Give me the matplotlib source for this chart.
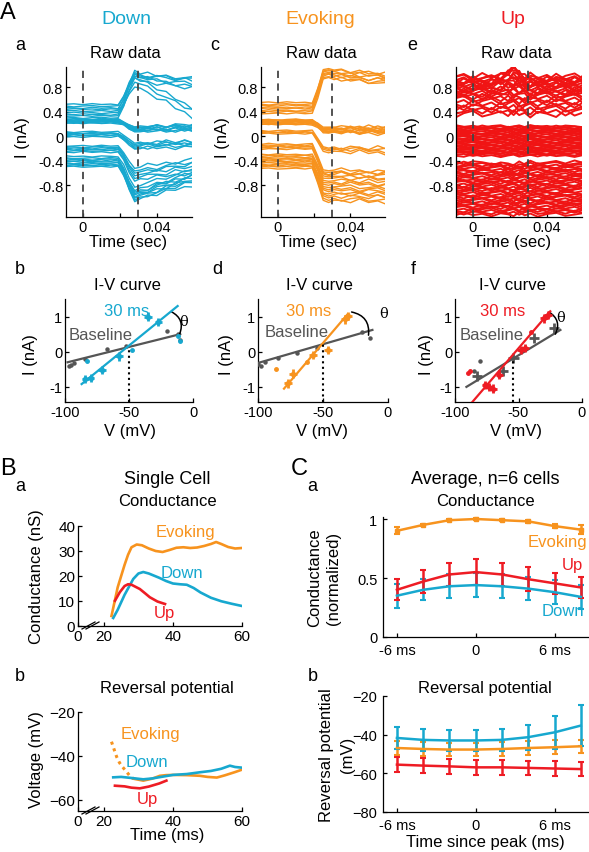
import numpy as np
import matplotlib
matplotlib.use('Agg')
import matplotlib.pyplot as plt
from matplotlib.lines import Line2D

plt.rcParams['font.family'] = ['Liberation Sans', 'DejaVu Sans']

W, H = 589, 853
CYAN = '#17a8cf'
ORANGE = '#f7931e'
RED = '#ee1c24'
UPRED = '#f01414'
GRAY = '#555555'

# ---------------- raw data (A a, c, e) ----------------
raw_t = [-0.010, -0.005, 0.000, 0.005, 0.010, 0.015, 0.019, 0.022, 0.025, 0.028,
         0.031, 0.035, 0.040, 0.045, 0.050, 0.055, 0.060]
wiggle = [0.0, 0.6, -0.4, 0.8, -0.2, 0.3, -0.7, 0.5, 0.1, -0.6, 0.9, -0.3, 0.4, -0.8, 0.2, 0.7, -0.5]

down_frac = [0, 0, 0, 0, 0, 0, 0, 0.3, 0.75, 1.08, 1.0, 1, 1, 1, 1, 1, 1]
down_decay = [0, 0, 0, 0, 0, 0, 0, 0, 0, 0, 0, 0.14, 0.31, 0.48, 0.66, 0.83, 1.0]
down_amp = [0.015] * 7 + [0.01] * 4 + [0.045] * 6
down_pre = [0.52, 0.49, 0.46, 0.44, 0.41, 0.38, 0.35, 0.33, 0.30,
            0.28, 0.27, 0.26, 0.25, 0.25, 0.24, 0.23, 0.22, 0.21,
            0.07, 0.05, 0.04, 0.02, 0.01, -0.01,
            -0.16, -0.18, -0.20, -0.22, -0.24, -0.26,
            -0.33, -0.36, -0.38, -0.40, -0.42, -0.44, -0.46, -0.48, -0.50]
down_post = [0.95, 1.0, 0.92, 0.98, 0.78, 0.96, 0.85, 1.02, 0.9,
             0.15, 0.12, 0.1, 0.14, 0.08, 0.11, 0.16, 0.09, 0.13,
             -0.1, -0.14, -0.18, -0.12, -0.2, -0.16,
             -0.5, -0.58, -0.62, -0.55, -0.66, -0.7,
             -0.8, -0.9, -0.95, -1.0, -0.85, -0.92, -1.02, -0.88, -0.97]
down_end = [0.85, 0.9, 0.45, 0.95, 0.3, 0.8, 0.4, 0.92, 0.78,
            0.16, 0.15, 0.12, 0.18, 0.1, 0.12, 0.19, 0.08, 0.14,
            -0.1, -0.12, -0.15, -0.08, -0.18, -0.13,
            -0.38, -0.45, -0.5, -0.42, -0.55, -0.6,
            -0.55, -0.62, -0.7, -0.75, -0.6, -0.68, -0.8, -0.65, -0.72]

evok_frac = [0, 0, 0, 0, 0, 0, 0, 0.45, 1.0, 1.05, 1.0, 1, 1, 1, 1, 1, 1]
evok_decay = down_decay
evok_amp = [0.015] * 7 + [0.01] * 4 + [0.045] * 6
evok_pre = [0.55, 0.52, 0.5, 0.47, 0.45, 0.42, 0.40, 0.37,
            0.27, 0.26, 0.25, 0.25, 0.24, 0.23, 0.22, 0.21, 0.2, 0.19,
            0.09, 0.07, 0.06, 0.04,
            -0.13, -0.15, -0.17, -0.19, -0.21,
            -0.3, -0.32, -0.34, -0.36, -0.38, -0.4, -0.42, -0.44, -0.46, -0.48, -0.5, -0.53]
evok_post = [1.05, 1.0, 1.08, 0.95, 1.02, 0.98, 1.06, 0.93,
             0.12, 0.08, 0.1, 0.15, 0.06, 0.11, 0.13, 0.09, 0.14, 0.07,
             -0.18, -0.22, -0.2, -0.25,
             -0.55, -0.6, -0.62, -0.58, -0.65,
             -0.68, -0.72, -0.78, -0.82, -0.75, -0.88, -0.92, -0.85, -0.98, -0.95, -1.02, -1.05]
evok_end = [0.95, 0.9, 1.0, 0.85, 0.98, 0.92, 1.02, 0.88,
            0.12, 0.05, 0.08, 0.14, 0.04, 0.1, 0.11, 0.07, 0.13, 0.06,
            -0.2, -0.25, -0.22, -0.28,
            -0.58, -0.62, -0.65, -0.6, -0.7,
            -0.7, -0.75, -0.8, -0.85, -0.78, -0.9, -0.95, -0.88, -1.0, -0.98, -1.05, -1.08]

up_bump = [0, 0, 0, 0, 0, 0.06, 0.16, 0.22, 0.14, 0.03, 0, 0, 0, 0, 0, 0, 0]
up_amp = [0.06] * 17
up_level = [0.97, 0.95, 0.93, 0.91, 0.9, 0.88, 0.86, 0.85, 0.83, 0.81, 0.79, 0.77, 0.75,
            0.73, 0.71, 0.69, 0.66, 0.63, 0.6, 0.56, 0.52, 0.48, 0.44, 0.4, 0.36,
            0.16, 0.15, 0.13, 0.12, 0.1, 0.09, 0.07, 0.05, 0.04, 0.02, 0.0, -0.01, -0.03,
            -0.05, -0.06, -0.08, -0.1, -0.11, -0.13, -0.15, -0.16, -0.18, -0.2, -0.21,
            -0.23, -0.25, -0.26, -0.28, -0.3, -0.32,
            -0.43, -0.45, -0.48, -0.5, -0.52, -0.55, -0.57, -0.6, -0.62, -0.64, -0.67,
            -0.69, -0.72, -0.74, -0.76, -0.79, -0.81, -0.84, -0.86, -0.88, -0.91, -0.93,
            -0.96, -0.98, -1.0, -1.03, -1.05, -1.08, -1.1, -1.12, -1.15, -1.17, -1.2,
            -1.22, -1.25, -1.28]
up_bumpf = ([0.5, 0, 0.8, 0, 1.0, 0, 1.2, 0.5, 0, 1.0, 0, 0.6, 0, 0.5, 0, 0, 0.4, 0, 0, 0, 0, 0, 0, 0, 0]
            + [0] * 30 + [-1.0] + [0] * 35)
up_wigscale = [1.3] * 25 + [0.45] * 30 + [0.7] * 36

raw_yticks = [-0.8, -0.4, 0, 0.4, 0.8]
raw_yticklabels = ['-0.8', '-0.4', '0', '0.4', '0.8']

# ---------------- I-V curves (A b, d, f) ----------------
ivb_base_v = [-97, -95, -93, -84, -67, -52, -20, -12, -10]
ivb_base_i = [-0.42, -0.38, -0.32, -0.2, 0.07, 0.15, 0.6, 0.5, 0.32]
ivb_basefit_v = [-98, -10]
ivb_basefit_i = [-0.3, 0.5]
ivb_cross_v = [-84, -80, -71, -58, -35, -27]
ivb_cross_i = [-0.78, -0.75, -0.52, -0.13, 1.0, 0.85]
ivb_dot_v = [-83, -48, -12, -10]
ivb_dot_i = [-0.27, 0.05, 0.45, 0.3]
ivb_fit_v = [-87, -12]
ivb_fit_i = [-0.92, 1.3]
ivb_rev = -50

ivd_base_v = [-100, -98, -95, -85, -70, -55, -20, -14]
ivd_base_i = [-0.35, -0.42, -0.3, -0.18, -0.05, 0.12, 0.55, 0.4]
ivd_basefit_v = [-100, -12]
ivd_basefit_i = [-0.32, 0.62]
ivd_cross_v = [-77, -73, -58, -46, -33, -31]
ivd_cross_i = [-0.9, -0.62, -0.1, 0.05, 0.92, 1.02]
ivd_dot_v = [-86, -62]
ivd_dot_i = [-0.49, -0.3]
ivd_fit_v = [-80, -31]
ivd_fit_i = [-1.05, 1.07]
ivd_rev = -50

ivf_base_v = [-80, -85, -83, -62, -54, -38, -22]
ivf_base_i = [-0.25, -0.55, -0.68, -0.56, -0.18, 0.38, 0.68]
ivf_basecross = [0, 0, 1, 1, 1, 1, 1]
ivf_basefit_v = [-91, -17]
ivf_basefit_i = [-1.0, 0.62]
ivf_cross_v = [-76, -73, -70, -65, -48, -45, -30, -27]
ivf_cross_i = [-0.95, -1.0, -1.05, -0.65, 0.05, 0.1, 0.95, 1.05]
ivf_dot_v = [-90, -88, -40]
ivf_dot_i = [-0.6, -0.55, 0.55]
ivf_fit_v = [-88, -25]
ivf_fit_i = [-1.5, 1.15]
ivf_rev = -54

# ---------------- B: single cell ----------------
ba_evok_t = [22.2, 24.0, 26.0, 27.0, 28.0, 29.5, 31.0, 33.0, 35.0, 37.0, 39.0, 41.0, 43.0,
             45.0, 47.0, 49.0, 51.0, 52.5, 54.0, 56.0, 58.0, 60.0]
ba_evok_g = [4.0, 15.5, 24.5, 28.5, 31.5, 32.6, 32.3, 31.0, 30.0, 29.6, 30.4, 31.3, 31.5,
             31.2, 31.4, 32.0, 32.8, 33.6, 32.8, 31.6, 31.0, 31.2]
ba_down_t = [22.7, 24, 26, 28.5, 30, 31.4, 33, 36, 38, 40, 42, 44, 46, 48, 51, 54, 57, 60]
ba_down_g = [3.2, 6.5, 12.5, 18.8, 21.0, 21.6, 21.0, 19.3, 18.0, 17.0, 16.7, 16.5, 15.2,
             13.4, 11.3, 9.9, 8.9, 8.0]
ba_up_t = [23.2, 24.6, 26, 27, 28, 30.4, 32, 33.3, 35.5, 37.7]
ba_up_g = [10.1, 13.5, 16.0, 16.7, 16.5, 14.8, 13.0, 11.5, 9.8, 8.8]

bb_evokdot_t = [22.2, 23.0, 23.7, 24.5, 25.3, 26.1, 27.5, 28.5]
bb_evokdot_v = [-33.5, -37.2, -40.4, -43.0, -44.8, -46.3, -49.0, -50.3]
bb_evok_t = [28.5, 31.4, 34, 36.2, 38, 40, 44, 47.8, 50, 52.7, 55, 58, 60]
bb_evok_v = [-50.3, -51.2, -50.3, -49.0, -48.7, -48.6, -48.7, -49.0, -49.5, -49.8, -48.8, -47.3, -46.2]
bb_down_t = [22.7, 25, 28, 31.4, 34, 37, 40, 44, 47.8, 51, 54, 56.5, 58, 60]
bb_down_v = [-49.7, -49.5, -50.0, -50.6, -50.2, -49.4, -48.6, -48.2, -47.4, -46.8, -45.8, -44.4, -45.0, -45.3]
bb_up_t = [23.2, 26, 28, 30.4, 33, 36, 38.1]
bb_up_v = [-53.5, -53.8, -54.4, -54.7, -53.9, -52.5, -51.2]

# ---------------- C: averages ----------------
c_t = [-6, -4, -2, 0, 2, 4, 6, 8]
ca_evok = [0.90, 0.95, 0.99, 1.0, 0.99, 0.98, 0.94, 0.91]
ca_evok_err = [0.03, 0.01, 0.01, 0.005, 0.01, 0.01, 0.02, 0.035]
ca_up = [0.40, 0.47, 0.53, 0.55, 0.53, 0.49, 0.455, 0.42]
ca_up_err = [0.09, 0.10, 0.10, 0.11, 0.10, 0.10, 0.09, 0.09]
ca_down = [0.35, 0.40, 0.43, 0.44, 0.43, 0.41, 0.38, 0.34]
ca_down_err = [0.10, 0.09, 0.10, 0.10, 0.10, 0.10, 0.10, 0.10]

cb_down = [-41.7, -42.7, -43.0, -43.0, -42.7, -41.3, -38.8, -35.3]
cb_down_err = [5.7, 5.5, 5.5, 5.5, 5.5, 6.5, 8.5, 10.5]
cb_evok = [-46.9, -47.4, -47.7, -47.7, -47.4, -46.9, -46.5, -46.0]
cb_evok_err = [3.5, 3.5, 3.5, 3.5, 3.5, 3.5, 3.5, 3.5]
cb_up = [-55.5, -56.0, -56.4, -56.9, -56.9, -57.2, -57.5, -57.8]
cb_up_err = [3.8, 3.8, 3.8, 3.8, 3.8, 3.8, 3.8, 3.8]

# ======================= figure ========================
fig = plt.figure(figsize=(W / 100, H / 100), dpi=100)
fig.patch.set_facecolor('white')

TICK = 10.5


def add_ax(l, t, r, b, size=TICK, pad=2):
    ax = fig.add_axes([l / W, 1 - b / H, (r - l) / W, (b - t) / H])
    ax.spines[['top', 'right']].set_visible(False)
    for s in ('left', 'bottom'):
        ax.spines[s].set_linewidth(0.9)
    ax.tick_params(direction='in', length=3, width=0.9, labelsize=size, pad=pad)
    ax.set_facecolor('none')
    return ax


def txt(x, y, s, size=12, color='black', ha='center', va='center', **kw):
    fig.text(x / W, 1 - y / H, s, fontsize=size, color=color, ha=ha, va=va, **kw)


# ---- raw traces ----
def raw_panel(l, r, color, pre, post, end, frac, decay, amp):
    ax = add_ax(l, 68, r, 218)
    t = np.array(raw_t)
    for i in range(len(pre)):
        w = np.roll(np.array(wiggle), 5 * i) * np.array(amp)
        y = pre[i] + np.array(frac) * (post[i] - pre[i]) + np.array(decay) * (end[i] - post[i]) + w
        ax.plot(t, y, color=color, lw=1.0)
    return ax


ax_a = raw_panel(66, 192, CYAN, down_pre, down_post, down_end, down_frac, down_decay, down_amp)
ax_c = raw_panel(261, 385, ORANGE, evok_pre, evok_post, evok_end, evok_frac, evok_decay, evok_amp)
ax_e = add_ax(456, 68, 582, 218)
for i, lev in enumerate(up_level):
    w = np.roll(np.array(wiggle), 3 * i) * np.array(up_amp) * up_wigscale[i]
    ax_e.plot(raw_t, lev + w + up_bumpf[i] * np.array(up_bump), color=UPRED, lw=1.4)

for ax in (ax_a, ax_c, ax_e):
    ax.set_xlim(-0.0092, 0.059)
    ax.set_ylim(-1.32, 1.13)
    ax.set_yticks(raw_yticks)
    ax.set_yticklabels(raw_yticklabels)
    ax.set_xticks([0, 0.02, 0.04])
    ax.set_xticklabels(['0', '', '0.04'])
    for xv in (0, 0.03):
        ax.axvline(xv, color='#444444', ls=(0, (4, 3)), lw=1.3, zorder=5)

# ---- I-V panels ----
def iv_panel(l, r, color, base_v, base_i, basefit_v, basefit_i, cross_v, cross_i,
             dot_v, dot_i, fit_v, fit_i, rev, arc, theta, basecross=None):
    ax = add_ax(l, 300, r, 403)
    ax.set_xlim(-100, 0)
    ax.set_ylim(-1.43, 1.5)
    ax.set_xticks([-100, -50, 0])
    ax.set_xticklabels(['-100', '-50', '0'])
    ax.set_yticks([-1, 0, 1])
    ax.set_yticklabels(['-1', '0', '1'])
    ax.plot(basefit_v, basefit_i, color=GRAY, lw=1.6, zorder=3)
    ax.plot(fit_v, fit_i, color=color, lw=1.6, zorder=4)
    bv = np.array(base_v, float)
    bi = np.array(base_i, float)
    if basecross is None:
        ax.plot(bv, bi, 'o', color=GRAY, ms=2.2, zorder=3)
    else:
        m = np.array(basecross) == 1
        ax.plot(bv[~m], bi[~m], 'o', color=GRAY, ms=2.2, zorder=3)
        ax.errorbar(bv[m], bi[m], xerr=4, yerr=0.14, fmt='none', ecolor=GRAY, elinewidth=2.0, zorder=3)
    ax.errorbar(cross_v, cross_i, xerr=3, yerr=0.12, fmt='none', ecolor=color, elinewidth=2.0, zorder=4)
    ax.plot(cross_v, cross_i, 'o', color=color, ms=3, zorder=4)
    ax.plot(dot_v, dot_i, 'o', color=color, ms=2.5, zorder=4)
    slope = (basefit_i[1] - basefit_i[0]) / (basefit_v[1] - basefit_v[0])
    irev = basefit_i[0] + slope * (rev - basefit_v[0])
    ax.plot([rev, rev], [-1.43, irev], color='black', ls=':', lw=1.5, zorder=5)
    ax.annotate('', xy=arc[1], xytext=arc[0],
                arrowprops=dict(arrowstyle='-', color='black', lw=1.1,
                                connectionstyle='arc3,rad=-0.45', shrinkA=0, shrinkB=0))
    ax.text(theta[0], theta[1], 'θ', fontsize=10.5, ha='center', va='center',
            family=['DejaVu Serif'])
    return ax


iv_panel(65, 193, CYAN, ivb_base_v, ivb_base_i, ivb_basefit_v, ivb_basefit_i, ivb_cross_v,
         ivb_cross_i, ivb_dot_v, ivb_dot_i, ivb_fit_v, ivb_fit_i, ivb_rev,
         ((-17, 1.14), (-10.5, 0.5)), (-7, 0.88))
iv_panel(258, 388, ORANGE, ivd_base_v, ivd_base_i, ivd_basefit_v, ivd_basefit_i, ivd_cross_v,
         ivd_cross_i, ivd_dot_v, ivd_dot_i, ivd_fit_v, ivd_fit_i, ivd_rev,
         ((-28, 1.13), (-15, 0.47)), (-3, 1.09))
iv_panel(455, 582, RED, ivf_base_v, ivf_base_i, ivf_basefit_v, ivf_basefit_i, ivf_cross_v,
         ivf_cross_i, ivf_dot_v, ivf_dot_i, ivf_fit_v, ivf_fit_i, ivf_rev,
         ((-26, 1.13), (-21, 0.5)), (-17, 1.0), basecross=ivf_basecross)

# ---- B panels ----
ax_ba = add_ax(78, 527, 242, 627, size=11)
ax_ba.plot(ba_evok_t, ba_evok_g, color=ORANGE, lw=1.9)
ax_ba.plot(ba_down_t, ba_down_g, color=CYAN, lw=1.9)
ax_ba.plot(ba_up_t, ba_up_g, color=RED, lw=1.9)
ax_ba.set_ylim(0, 40)
ax_ba.set_yticks([0, 10, 20, 30, 40])

ax_bb = add_ax(78, 713, 242, 812, size=11)
ax_bb.plot(bb_evokdot_t, bb_evokdot_v, color=ORANGE, lw=2.2, ls=(0, (1, 1.3)))
ax_bb.plot(bb_evok_t, bb_evok_v, color=ORANGE, lw=1.9)
ax_bb.plot(bb_down_t, bb_down_v, color=CYAN, lw=1.9)
ax_bb.plot(bb_up_t, bb_up_v, color=RED, lw=1.9)
ax_bb.set_ylim(-65, -20)
ax_bb.set_yticks([-60, -40, -20])

for ax, yax in ((ax_ba, 627), (ax_bb, 812)):
    ax.set_xlim(12.5, 60)
    ax.set_xticks([12.5, 20, 40, 60])
    ax.set_xticklabels(['0', '20', '40', '60'])
    for dx in (0, 4):
        fig.add_artist(Line2D([(82 + dx) / W, (95 + dx) / W],
                              [1 - (yax + 3) / H, 1 - (yax - 4) / H], color='black', lw=0.9))

# ---- C panels ----
ax_ca = add_ax(383, 518, 588, 638, size=10.5, pad=3)
ax_ca.errorbar(c_t, ca_down, yerr=ca_down_err, color=CYAN, lw=1.8, elinewidth=1.8, capsize=2, capthick=1.5)
ax_ca.errorbar(c_t, ca_up, yerr=ca_up_err, color=RED, lw=1.8, elinewidth=1.8, capsize=2, capthick=1.5)
ax_ca.errorbar(c_t, ca_evok, yerr=ca_evok_err, color=ORANGE, lw=1.8, elinewidth=1.8, capsize=2,
               capthick=1.5, marker='s', ms=2.5)
ax_ca.set_ylim(0, 1.017)
ax_ca.set_yticks([0, 0.5, 1])
ax_ca.set_yticklabels(['0', '0.5', '1'])

ax_cb = add_ax(383, 697, 588, 813, size=10.5, pad=3)
ax_cb.errorbar(c_t, cb_evok, yerr=cb_evok_err, color=ORANGE, lw=1.8, elinewidth=1.8, capsize=2, capthick=1.5)
ax_cb.errorbar(c_t, cb_up, yerr=cb_up_err, color=RED, lw=1.8, elinewidth=1.8, capsize=2, capthick=1.5)
ax_cb.errorbar(c_t, cb_down, yerr=cb_down_err, color=CYAN, lw=1.8, elinewidth=1.8, capsize=2, capthick=1.5)
ax_cb.set_ylim(-80, -20)
ax_cb.set_yticks([-80, -60, -40, -20])

for ax in (ax_ca, ax_cb):
    ax.set_xlim(-7.06, 8.55)
    ax.set_xticks([-6, 0, 6])
    ax.set_xticklabels(['-6 ms', '0', '6 ms'])
    ax.tick_params(axis='x', pad=4)
    ax.tick_params(axis='y', pad=4)
    for ln in ax.lines:
        ln.set_clip_on(False)

# ======================= texts ========================
txt(8, 13, 'A', size=17)
txt(126, 20, 'Down', size=14, color=CYAN)
txt(320, 20, 'Evoking', size=14, color=ORANGE)
txt(513, 20, 'Up', size=14, color=RED)
for x, s in ((20, 'a'), (215, 'c'), (412, 'e')):
    txt(x, 46, s, size=13)
for x in (125, 321, 516):
    txt(x, 53, 'Raw data', size=12)
for x in (22, 223, 413):
    txt(x, 138, 'I (nA)', size=12, rotation=90)
for x in (128, 318, 512):
    txt(x, 243, 'Time (sec)', size=12)

for x, s in ((20, 'b'), (217, 'd'), (413, 'f')):
    txt(x, 269, s, size=13)
for x in (127, 319, 512):
    txt(x, 286, 'I-V curve', size=12)
txt(127, 312, '30 ms', size=12, color=CYAN)
txt(309, 312, '30 ms', size=12, color=ORANGE)
txt(503, 312, '30 ms', size=12, color=RED)
txt(101, 336, 'Baseline', size=12, color=GRAY)
txt(297, 333, 'Baseline', size=12, color=GRAY)
txt(492, 336, 'Baseline', size=12, color=GRAY)
for x in (30, 226, 427):
    txt(x, 355, 'I (nA)', size=12, rotation=90)
for x in (130, 322, 516):
    txt(x, 432, 'V (mV)', size=12)

txt(8, 469, 'B', size=17)
txt(20, 487, 'a', size=13)
txt(167, 480, 'Single Cell', size=13)
txt(167, 502, 'Conductance', size=12)
txt(185, 532, 'Evoking', size=12, color=ORANGE)
txt(182, 573, 'Down', size=12, color=CYAN)
txt(164, 614, 'Up', size=12, color=RED)
txt(37, 577, 'Conductance (nS)', size=12, rotation=90)
txt(20, 677, 'b', size=13)
txt(167, 689, 'Reversal potential', size=12)
txt(150, 735, 'Evoking', size=12, color=ORANGE)
txt(147, 763, 'Down', size=12, color=CYAN)
txt(147, 800, 'Up', size=12, color=RED)
txt(37, 760, 'Voltage (mV)', size=12, rotation=90)
txt(167, 836, 'Time (ms)', size=12)

txt(299, 469, 'C', size=17)
txt(312, 487, 'a', size=13)
txt(485, 480, 'Average, n=6 cells', size=13)
txt(485, 502, 'Conductance', size=12)
txt(557, 542, 'Evoking', size=12, color=ORANGE)
txt(572, 566, 'Up', size=12, color=RED)
txt(563, 612, 'Down', size=12, color=CYAN)
txt(315, 578, 'Conductance', size=12, rotation=90)
txt(334, 578, '(normalized)', size=12, rotation=90)
txt(313, 677, 'b', size=13)
txt(485, 689, 'Reversal potential', size=12)
txt(327, 755, 'Reversal potential', size=12, rotation=90)
txt(347, 755, '(mV)', size=12, rotation=90)
txt(485, 843, 'Time since peak (ms)', size=12)

fig.savefig('out.png', dpi=100)
